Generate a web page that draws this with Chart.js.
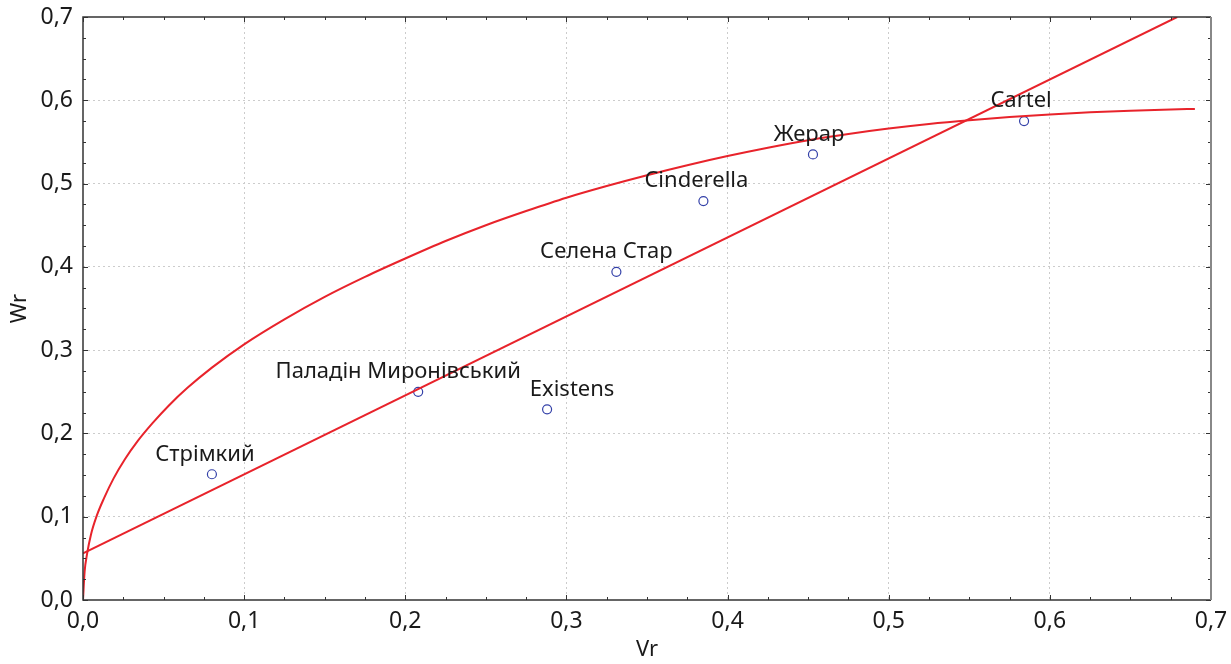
<!DOCTYPE html>
<html lang="uk">
<head>
    <meta charset="UTF-8">
    <title>Wr / Vr</title>
    <script src="https://cdn.jsdelivr.net/npm/chart.js"></script>
    <style>
        body { margin: 0; background: #fff; }
        canvas { display: block; }
    </style>
</head>
<body>
    <canvas id="grafik" width="1231" height="664"></canvas>

    <script>
        // сорти (підписи точок) та їх координати
        const sorty = ['Стрімкий', 'Паладін Миронівський', 'Existens', 'Селена Стар', 'Cinderella', 'Жерар', 'Cartel'];
        const vrTochky = [0.080, 0.208, 0.288, 0.331, 0.385, 0.453, 0.584];
        const wrTochky = [0.151, 0.250, 0.229, 0.394, 0.479, 0.535, 0.575];

        // крива
        const vrKryva = [0, 0.001, 0.0025, 0.005, 0.0085, 0.013, 0.019, 0.026, 0.034, 0.043, 0.053, 0.065, 0.080,
            0.100, 0.125, 0.150, 0.175, 0.200, 0.225, 0.250, 0.275, 0.300, 0.325, 0.350, 0.375, 0.400,
            0.425, 0.450, 0.475, 0.500, 0.525, 0.550, 0.575, 0.600, 0.625, 0.650, 0.675, 0.690];
        const wrKryva = [0, 0.034, 0.055, 0.079, 0.101, 0.122, 0.146, 0.169, 0.191, 0.212, 0.233, 0.255, 0.279,
            0.307, 0.337, 0.364, 0.388, 0.410, 0.431, 0.450, 0.467, 0.483, 0.497, 0.510, 0.522, 0.533,
            0.543, 0.552, 0.5595, 0.566, 0.5715, 0.576, 0.5798, 0.583, 0.5855, 0.5875, 0.589, 0.5896];

        // пряма
        const vrPryama = [0, 0.679];
        const wrPryama = [0.056, 0.700];

        // осі
        const osXTicks = [0, 0.1, 0.2, 0.3, 0.4, 0.5, 0.6, 0.7];
        const osYTicks = [0, 0.1, 0.2, 0.3, 0.4, 0.5, 0.6, 0.7];

        const shryft = '"Noto Sans", "DejaVu Sans", sans-serif';
        const chervonyi = '#e8232b';

        // зсув підписів відносно точки (px), щоб стояли як на оригіналі
        const zsuvPidpysu = [-7, -20, 25, -10, -7, -4, -3];

        const tochky = vrTochky.map((v, i) => ({ x: v, y: wrTochky[i] }));
        const kryva = vrKryva.map((v, i) => ({ x: v, y: wrKryva[i] }));
        const pryama = vrPryama.map((v, i) => ({ x: v, y: wrPryama[i] }));

        const fmt = v => v.toFixed(1).replace('.', ',');

        // рамка, внутрішні риски та підписи точок
        const ramka = {
            id: 'ramka',
            afterDatasetsDraw(chart) {
                const ctx = chart.ctx;
                const a = chart.chartArea;
                const sx = chart.scales.x, sy = chart.scales.y;
                ctx.save();

                // риски всередину
                ctx.strokeStyle = '#333';
                ctx.lineWidth = 1;
                for (let k = 0; k <= 28; k++) {
                    const v = k * 0.025;
                    const major = k % 4 === 0;
                    const len = major ? 5 : 3;
                    const px = Math.round(sx.getPixelForValue(v)) + 0.5;
                    const py = Math.round(sy.getPixelForValue(v)) + 0.5;
                    ctx.beginPath();
                    ctx.moveTo(px, a.bottom); ctx.lineTo(px, a.bottom - len);
                    ctx.moveTo(px, a.top); ctx.lineTo(px, a.top + len);
                    ctx.moveTo(a.left, py); ctx.lineTo(a.left + len, py);
                    ctx.moveTo(a.right, py); ctx.lineTo(a.right - len, py);
                    ctx.stroke();
                }

                // рамка
                ctx.lineWidth = 1.5;
                ctx.strokeStyle = '#333';
                ctx.beginPath();
                ctx.moveTo(a.right, a.top);
                ctx.lineTo(a.left, a.top);
                ctx.lineTo(a.left, a.bottom);
                ctx.lineTo(a.right, a.bottom);
                ctx.stroke();
                ctx.strokeStyle = '#888';
                ctx.lineWidth = 2;
                ctx.beginPath();
                ctx.moveTo(a.right, a.top);
                ctx.lineTo(a.right, a.bottom);
                ctx.stroke();

                // підписи сортів
                const meta = chart.getDatasetMeta(2);
                ctx.fillStyle = '#1a1a1a';
                ctx.font = '22px ' + shryft;
                ctx.textAlign = 'center';
                ctx.textBaseline = 'middle';
                meta.data.forEach((el, i) => {
                    ctx.fillText(sorty[i], el.x + zsuvPidpysu[i], el.y - 20);
                });
                ctx.restore();
            }
        };

        const siatka = {
            display: true,
            color: ctx => (ctx.tick && (ctx.tick.value <= 0.0001 || ctx.tick.value >= 0.6999)) ? 'rgba(0,0,0,0)' : '#cccccc',
            lineWidth: 1,
            drawTicks: false
        };

        new Chart(document.getElementById('grafik'), {
            type: 'scatter',
            data: {
                datasets: [
                    {
                        label: 'крива',
                        data: kryva,
                        showLine: true,
                        borderColor: chervonyi,
                        borderWidth: 2,
                        pointRadius: 0,
                        cubicInterpolationMode: 'monotone',
                        fill: false
                    },
                    {
                        label: 'пряма',
                        data: pryama,
                        showLine: true,
                        borderColor: chervonyi,
                        borderWidth: 2,
                        pointRadius: 0,
                        fill: false
                    },
                    {
                        label: 'сорти',
                        data: tochky,
                        pointRadius: 4.5,
                        pointBorderWidth: 1.2,
                        pointBorderColor: '#3340a8',
                        pointBackgroundColor: 'rgba(255,255,255,0)'
                    }
                ]
            },
            options: {
                responsive: false,
                animation: false,
                layout: { padding: { top: 17, right: 20, left: 0, bottom: 0 } },
                plugins: {
                    legend: { display: false },
                    tooltip: { enabled: false }
                },
                scales: {
                    x: {
                        type: 'linear',
                        min: 0,
                        max: 0.7,
                        afterBuildTicks: s => { s.ticks = osXTicks.map(v => ({ value: v })); },
                        afterFit: s => { s.height = 64; s.paddingLeft = 0; s.paddingRight = 0; },
                        border: { display: false, dash: [2, 3] },
                        grid: siatka,
                        ticks: {
                            padding: 8,
                            color: '#1a1a1a',
                            font: { family: shryft, size: 23 },
                            callback: v => fmt(v),
                            maxRotation: 0
                        },
                        title: {
                            display: true,
                            text: 'Vr',
                            color: '#1a1a1a',
                            font: { family: shryft, size: 22 },
                            padding: { top: 0, bottom: 1 }
                        }
                    },
                    y: {
                        type: 'linear',
                        min: 0,
                        max: 0.7,
                        afterBuildTicks: s => { s.ticks = osYTicks.map(v => ({ value: v })); },
                        afterFit: s => { s.width = 83; s.paddingTop = 0; s.paddingBottom = 0; },
                        border: { display: false, dash: [2, 3] },
                        grid: siatka,
                        ticks: {
                            padding: 10,
                            color: '#1a1a1a',
                            font: { family: shryft, size: 23 },
                            callback: v => fmt(v)
                        },
                        title: {
                            display: true,
                            text: 'Wr',
                            color: '#1a1a1a',
                            font: { family: shryft, size: 22 },
                            padding: { top: 7, bottom: 0 }
                        }
                    }
                }
            },
            plugins: [ramka]
        });
    </script>
</body>
</html>
